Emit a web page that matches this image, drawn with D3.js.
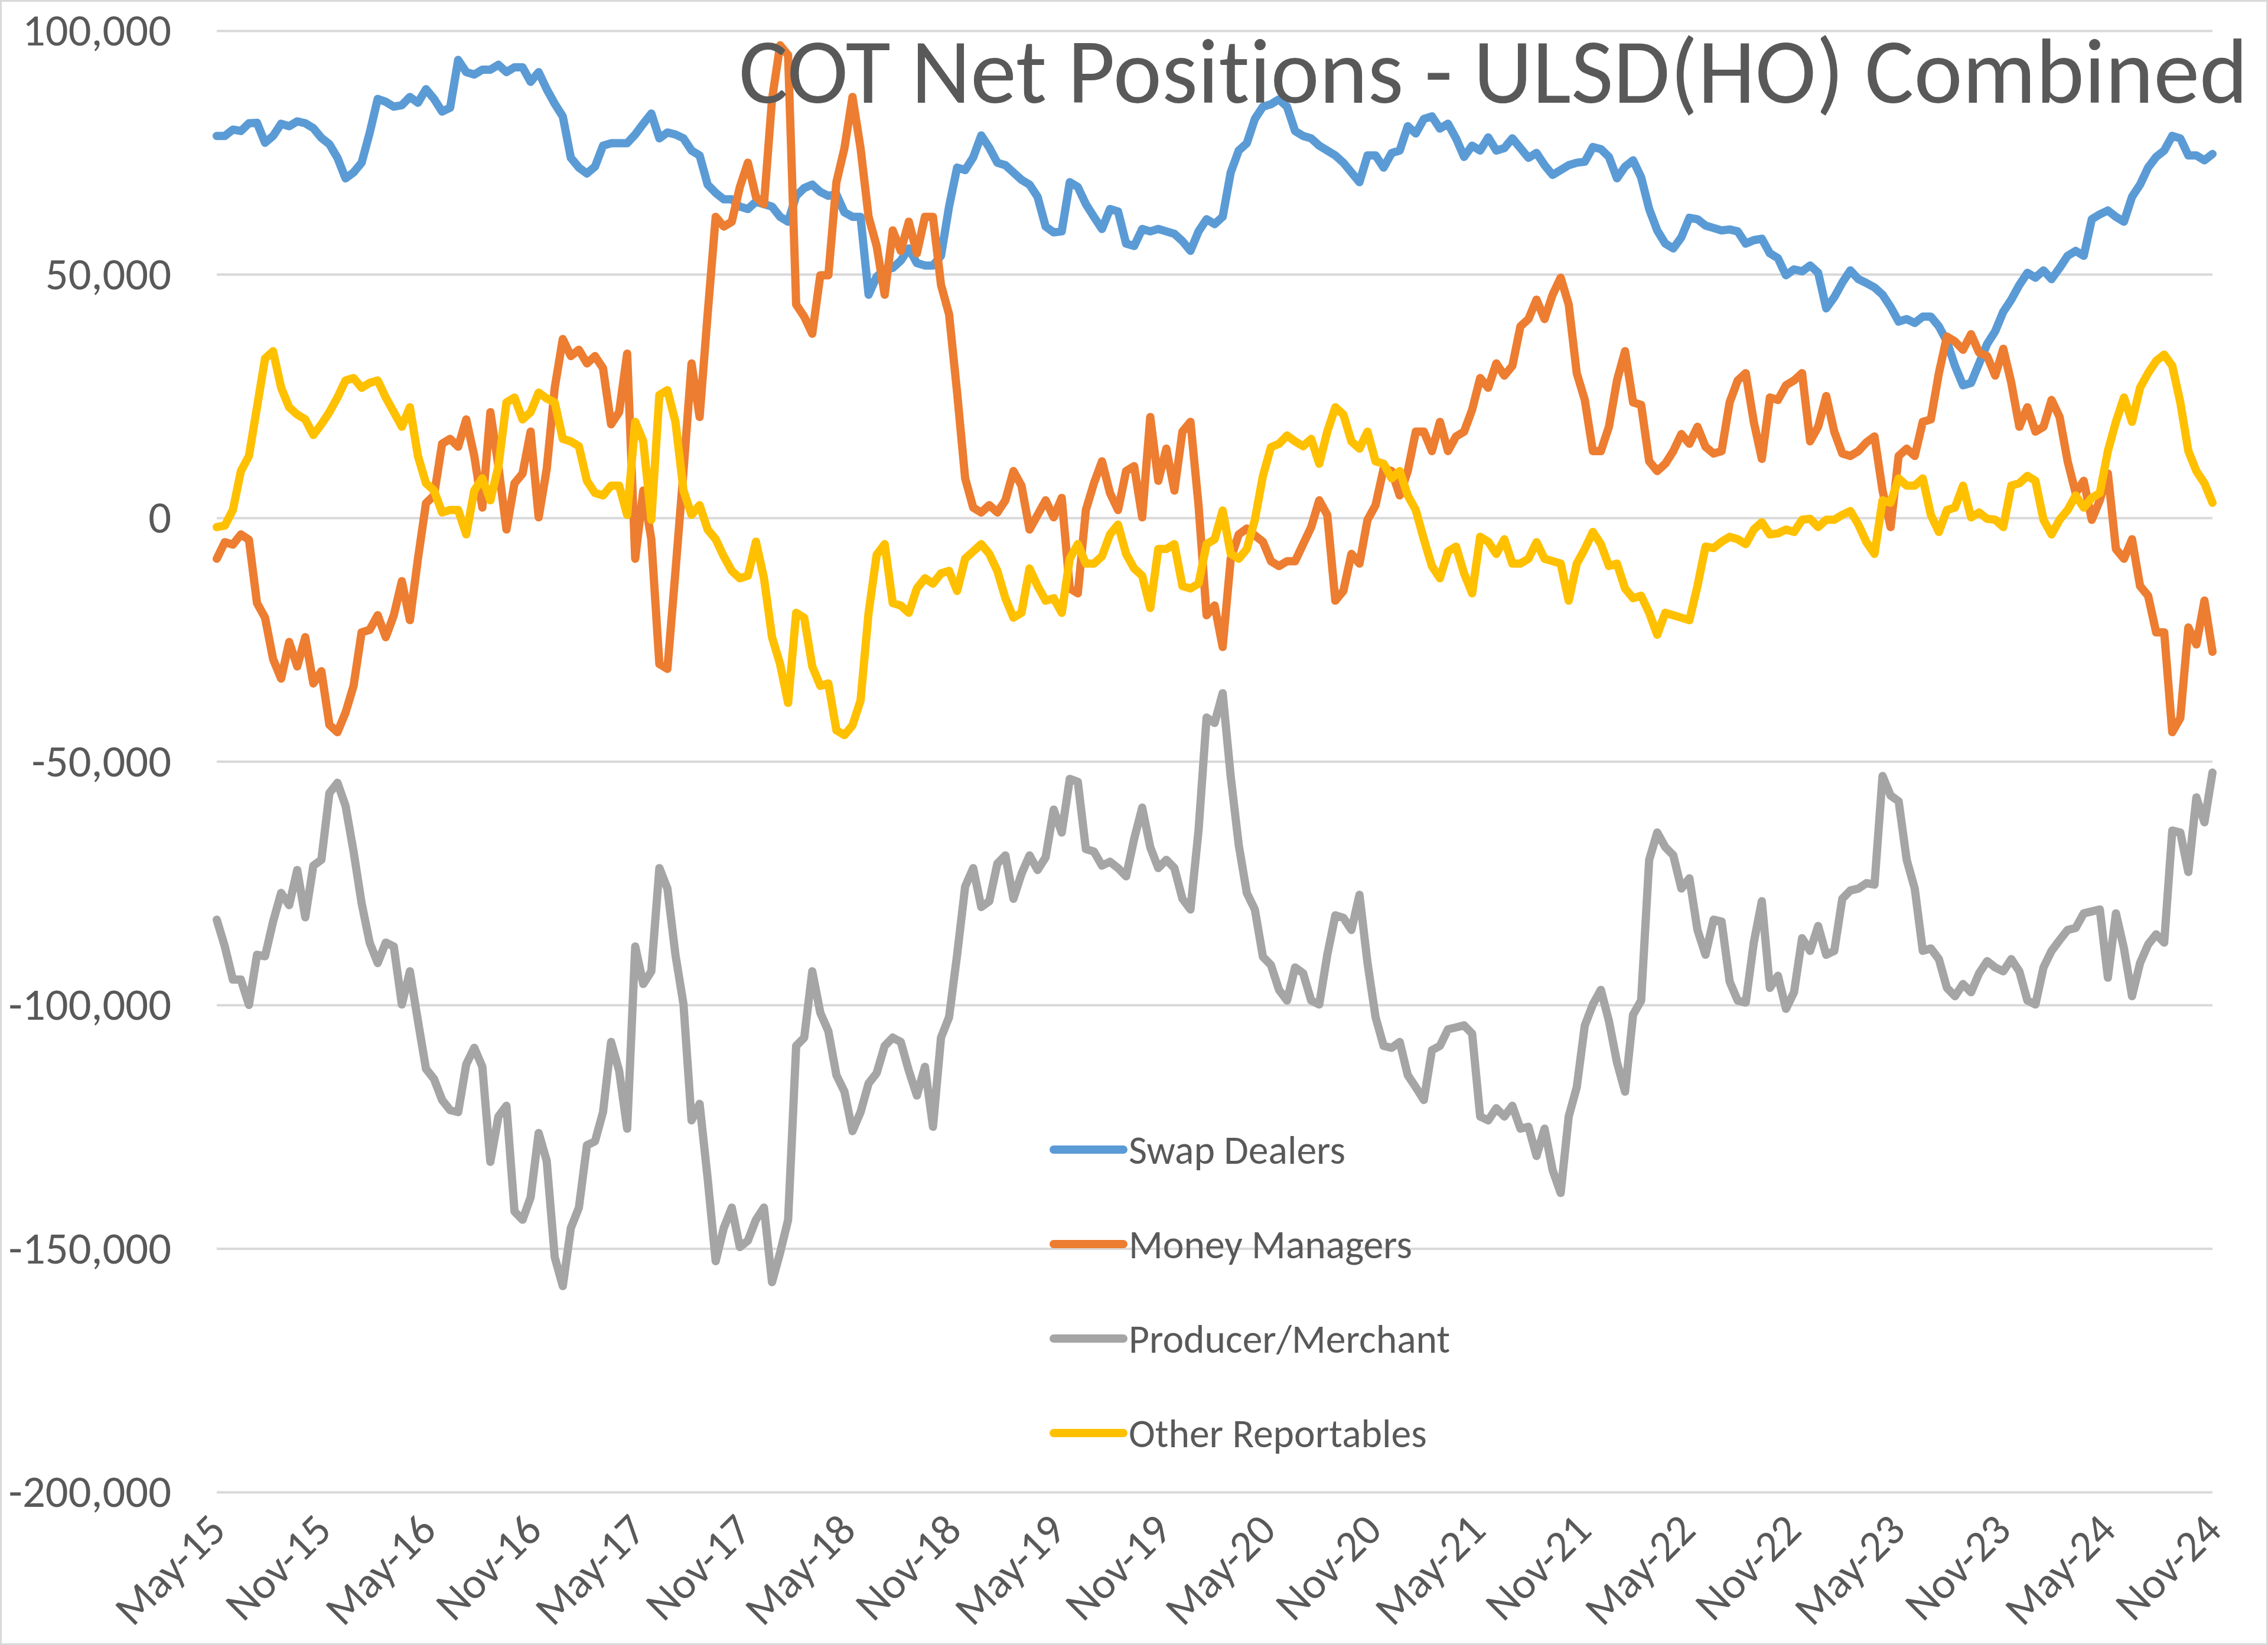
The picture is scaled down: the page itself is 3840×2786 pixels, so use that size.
<!DOCTYPE html>
<html><head><meta charset="utf-8">
<script src="https://cdn.jsdelivr.net/npm/d3@7"></script>
<style>html,body{margin:0;padding:0;background:#fff;} svg{display:block;} text{font-variant-ligatures:none;font-feature-settings:"liga" 0;}</style>
</head><body>
<svg id="chart" width="3840" height="2786"></svg>
<script>
// ---------- DATA (net positions, thousands of contracts, one reading every 2 weeks) ----------
const startDate = new Date(2015, 4, 5);
const stepDays = 14;
const unit = 1000;

const swapDealers = [
78.4,78.4,79.7,79.4,81,81.1,77,78.4,80.9,80.4,81.4,81,80,78,76.7,73.9,69.7,70.9,72.9,79,86,85.4,84.4,84.7,86.4,85.2,88,86,83.4,84.2,94,91.5,91,92,92,93,91.5,92.5,92.5,89.5,91.5,88,
85,82.4,73.9,71.9,70.7,72.1,76.4,76.9,76.9,76.9,78.7,80.9,83,77.9,79.1,78.7,77.9,75.4,74.4,68.4,66.7,65.4,65.4,63.9,63.4,64.9,64.4,63.9,61.8,60.8,66.1,67.7,68.4,66.9,66.1,66.4,62.7,61.8,61.8,45.8,49.5,
51,51.3,52.8,55.3,52.3,51.8,51.8,53.8,63.9,71.9,71.4,74,78.5,76,72.9,72.4,70.9,69.4,68.4,65.9,59.8,58.6,58.8,68.9,67.9,64.4,61.8,59.3,63.4,62.9,56.3,55.8,59.3,58.8,59.3,58.8,58.3,56.8,54.8,58.8,61.3,
60.3,61.8,70.9,75.4,76.9,81.9,84.4,84.9,85.9,84.4,79.4,78.4,77.9,76.4,75.4,74.4,72.9,70.9,68.9,74.4,74.4,71.9,74.9,75.4,80.4,78.9,81.9,82.4,79.9,80.9,77.9,74.1,76.4,75.4,78.1,75.4,75.9,77.9,75.9,73.9,74.9,
72.4,70.4,71.4,72.4,72.9,73.1,76.1,75.7,74.1,69.7,72.1,73.4,69.9,63.4,59,56.3,55.3,57.6,61.6,61.3,60,59.5,59,59.2,58.8,56.3,57,57.3,54.3,53.3,49.8,51,50.6,51.8,50.3,43,45.3,48.3,50.8,49,48.2,
47.3,45.8,43.3,40.3,40.8,40,41.3,41.3,39.3,36.2,31.2,27.2,27.7,31.7,35.7,38.3,42.3,44.8,47.8,50.3,49.3,50.8,49,51.3,53.8,54.8,53.8,61.3,62.3,63.1,61.8,60.8,65.9,68.4,71.9,74.1,75.4,78.4,77.9,74.4,74.4,73.4,74.7
];

const moneyManagers = [
-8.4,-5,-5.5,-3.4,-4.5,-17.5,-20.5,-29,-33,-25.5,-30.5,-24.5,-34,-31.5,-42.5,-44,-40,-34.5,-23.5,-23,-20,-24.5,-20,-13,-21,-8.4,3,4.6,15.2,16.2,14.6,20.2,12.7,2.1,21.7,10.6,-2.4,7.1,9.1,17.7,0.1,10,
26.7,36.7,33.2,34.5,31.7,33.2,30.7,19.2,21.7,33.7,-8.4,5.6,-4.4,-30,-31,-11,9.6,31.7,20.7,41.8,61.8,59.8,60.8,67.9,72.9,65.9,64.4,85.9,97,95,43.8,41.3,37.8,49.8,49.8,68.9,75.9,86.4,75.9,61.8,55.8,
45.8,59,54.8,60.8,54.3,61.8,61.8,47.8,41.8,25.7,8.1,2.1,1.1,2.6,1.1,3.6,9.6,6.6,-2.4,0.6,3.6,0.1,4.1,-14.5,-15.5,1.6,7.1,11.6,5.1,1.6,9.6,10.6,0.1,20.7,7.6,14.2,5.6,17.7,19.7,2.6,-20,
-18,-26.5,-8.4,-3.4,-2.2,-3.6,-4.9,-8.9,-9.9,-8.9,-8.9,-5.4,-1.9,3.6,0.6,-17,-15,-7.4,-9.4,-0.4,2.6,10.1,9.6,4.6,9.6,17.7,17.7,13.7,19.7,13.7,16.7,17.7,22.2,28.7,26.7,31.7,29.2,31.2,39.3,40.8,44.8,
40.8,45.8,49.3,43.8,29.7,24.2,13.7,13.7,18.7,28.2,34.2,23.7,23.2,11.6,9.6,11.1,13.7,17.2,15.2,18.7,14.6,13.2,13.7,23.7,28.2,29.7,19.7,12.1,24.7,24.2,27.2,28.2,29.7,15.7,18.7,25,17.7,13.2,12.7,13.7,15.5,
16.7,5.6,-1.9,12.7,14.2,12.7,19.7,20.2,29.7,37.2,36.2,34.5,37.7,33.9,33.2,29.2,34.7,27.7,18.7,22.7,17.7,18.7,24.2,20.7,11.6,5.1,7.6,-0.4,3.6,9.1,-6.4,-8.4,-4.4,-14,-16,-23.5,-23.5,-44,-41.1,-22.5,-26,-17,-27.5
];

const producerMerchant = [
-82.5,-88,-94.8,-94.8,-100,-89.7,-90,-82.9,-77,-79.5,-72.3,-82,-71.4,-70.2,-56.5,-54.4,-59.1,-68.5,-79.1,-87.2,-91.4,-87.2,-88,-99.9,-93.1,-103.3,-113.1,-115.2,-119.5,-121.6,-122,-112.2,-108.8,-112.7,-132.2,-122.9,-120.7,-142.4,-144.1,-139.5,-126.3,-132,
-151.8,-157.7,-145.8,-141.6,-128.8,-128,-122,-107.6,-113.5,-125.4,-88,-95.7,-93.1,-71.9,-76.1,-89.7,-99.9,-123.7,-120.3,-135.6,-152.6,-145.8,-141.6,-149.7,-148.4,-144.1,-141.6,-156.9,-150.9,-144.1,-108.4,-106.7,-93.1,-101.6,-105.4,-114.4,-117.8,-125.9,-122,-116.1,-114,
-108.4,-106.7,-107.6,-113.5,-118.6,-112.7,-125,-106.7,-102.5,-89.7,-75.7,-71.9,-79.9,-78.7,-71,-69.3,-78.2,-73.1,-69.3,-72.3,-69.7,-59.9,-64.6,-53.6,-54.2,-68,-68.5,-71.4,-70.6,-71.9,-73.6,-65.9,-59.5,-67.6,-71.9,-70.2,-71.9,-78.2,-80.4,-64.2,-41,
-42.1,-36,-53.1,-67.2,-77,-80.4,-90.1,-91.8,-96.9,-99.1,-92.3,-93.5,-99.1,-99.9,-89.7,-81.6,-82.1,-84.6,-77.4,-91.4,-102.5,-108.4,-108.8,-107.6,-114.4,-116.9,-119.5,-109.3,-108.4,-105,-104.6,-104.2,-105.9,-122.9,-123.7,-121.2,-122.9,-120.7,-125.4,-125,-131,
-125.4,-133.9,-138.6,-122.9,-116.9,-104.2,-99.9,-96.9,-103.3,-111.8,-117.8,-102,-99.1,-70.2,-64.6,-67.6,-69.3,-76.1,-74,-84.6,-89.7,-82.5,-82.9,-95.2,-99.1,-99.5,-87.2,-78.7,-96.5,-94,-100.8,-97.4,-86.3,-88.9,-83.8,-89.7,-88.9,-78.2,-76.5,-76.1,-75,
-75.3,-53,-57,-58.2,-70.2,-76.1,-88.9,-88.4,-90.6,-96.5,-98.2,-95.7,-97.4,-93.5,-91,-92.3,-93.1,-90.6,-93.1,-99.1,-99.9,-92.3,-88.9,-86.7,-84.6,-84.2,-81.2,-80.8,-80.4,-94.4,-81.2,-88.4,-98.2,-91.4,-87.6,-85.5,-87.2,-64.2,-64.6,-72.7,-57.4,-62.5,-52.3
];

const otherReportables = [
-1.9,-1.6,1.6,9.6,12.7,22.7,32.7,34.2,26.7,22.7,21.2,20.2,17,19.2,21.7,24.7,28.2,28.7,26.7,27.7,28.2,24.7,21.7,18.7,22.7,12.7,7.1,5.6,1.1,1.6,1.6,-3.4,5.6,8.1,3.6,10.6,23.7,24.7,20.2,21.7,25.7,24.5,
23.7,16.2,15.7,14.7,7.6,5.1,4.6,6.6,6.6,0.6,19.7,15.7,-0.4,25.2,26.2,19.7,5.6,0.6,2.6,-2.4,-4.4,-7.9,-10.9,-12.4,-11.9,-4.9,-12.4,-24.5,-30,-38,-19.5,-20.5,-30.5,-34.5,-34,-43.6,-44.6,-42.6,-37.5,-19.5,-7.6,
-5.4,-17.5,-18,-19.5,-14.5,-12.4,-13.5,-11.4,-10.9,-15,-8.4,-6.9,-5.4,-7.4,-10.9,-16.5,-20.5,-19.5,-10.4,-14,-17,-16.5,-19.5,-8.4,-5.4,-9.4,-9.4,-7.9,-3.4,-1.4,-7.4,-10.4,-11.9,-18.5,-6.4,-6.4,-5.4,-14,-14.5,-13.5,-5.4,
-4.4,1.5,-7.4,-8.4,-6.4,-0.4,8.6,14.5,15.2,16.9,15.7,14.7,16.2,11.1,17.7,22.7,21.2,15.7,14.2,17.7,11.6,11.1,8.1,9.6,4.6,1.6,-4.4,-9.9,-12.4,-6.9,-5.9,-11.4,-15.5,-3.9,-4.9,-7.4,-4.4,-9.4,-9.4,-8.4,-5,
-8.4,-8.9,-9.4,-17,-9.4,-6.4,-2.9,-5.4,-9.9,-9.4,-14.5,-16.5,-16,-19.5,-24,-19.5,-20,-20.5,-21,-14,-5.9,-6.2,-4.9,-3.9,-4.4,-5.4,-2.4,-0.9,-3.4,-3.2,-2.4,-2.9,-0.4,-0.2,-1.9,-0.4,-0.4,0.6,1.4,-1.4,-5,
-7.4,3.6,3.1,8.1,6.6,6.6,8.1,0.6,-2.9,1.6,2.1,6.6,0.1,1.1,-0.2,-0.4,-1.9,6.6,7.1,8.6,7.6,-0.4,-3.4,-0.4,1.6,4.6,2.1,4.1,5.1,13.7,19.7,24.7,19.7,26.7,29.7,32.2,33.5,31.2,23.7,13.7,9.6,7.1,3.1
];

const seriesNames = ["Swap Dealers", "Money Managers", "Producer/Merchant", "Other Reportables"];
const seriesColors = ["#5B9BD5", "#ED7D31", "#A5A5A5", "#FFC000"];
const seriesValues = [swapDealers, moneyManagers, producerMerchant, otherReportables];
const yTicks = [100000, 50000, 0, -50000, -100000, -150000, -200000];
const xTickLabels = ["May-15","Nov-15","May-16","Nov-16","May-17","Nov-17","May-18","Nov-18","May-19","Nov-19",
                     "May-20","Nov-20","May-21","Nov-21","May-22","Nov-22","May-23","Nov-23","May-24","Nov-24"];
const chartTitle = "COT Net Positions - ULSD(HO) Combined";

// ---------- LAYOUT ----------
const W = 3840, H = 2786;
const plot = {left: 367, right: 3746, top: 52, bottom: 2527};
const FONT = "Carlito, Calibri, Lato, 'Open Sans', sans-serif";
const TEXT = "#595959";
const GRID = "#D9D9D9";

const svg = d3.select("#chart");
svg.append("rect").attr("x", 0).attr("y", 0).attr("width", W).attr("height", H).attr("fill", "#fff");
svg.append("rect").attr("x", 1.5).attr("y", 1.5).attr("width", W - 3).attr("height", H - 3)
   .attr("fill", "none").attr("stroke", GRID).attr("stroke-width", 3);

const tickDates = xTickLabels.map((_, k) => d3.timeMonth.offset(startDate, 6 * k));
const x = d3.scaleTime().domain([tickDates[0], tickDates[tickDates.length - 1]]).range([plot.left, plot.right]);
const y = d3.scaleLinear().domain([-200000, 100000]).range([plot.bottom, plot.top]);

function fit(sel, target) {
  const w = sel.node().getComputedTextLength();
  const fs = parseFloat(sel.attr("font-size"));
  sel.attr("font-size", fs * target / w);
  return fs * target / w;
}
const numFmt = d3.format(",.0f");
const fmtTick = d => (d < 0 ? "-" : "") + numFmt(Math.abs(d));

// gridlines + y labels via axis
const yAxis = d3.axisLeft(y).tickValues(yTicks).tickSize(-(plot.right - plot.left)).tickPadding(77)
  .tickFormat(fmtTick);
const gy = svg.append("g").attr("transform", `translate(${plot.left},0)`).call(yAxis);
gy.select(".domain").remove();
gy.selectAll(".tick line").attr("stroke", GRID).attr("stroke-width", 4);
gy.selectAll(".tick text").attr("fill", TEXT).attr("font-family", FONT).attr("font-size", 70);
const refLabel = gy.selectAll(".tick text").filter(d => d === 100000);
const tickFont = fit(refLabel, 252);
gy.selectAll(".tick text").attr("font-size", tickFont);

// x labels (rotated)
const xAxis = d3.axisBottom(x).tickValues(tickDates).tickSize(0).tickFormat((d, i) => xTickLabels[i]);
const gx = svg.append("g").attr("transform", `translate(0,${plot.bottom})`).call(xAxis);
gx.select(".domain").remove();
gx.selectAll(".tick text")
  .attr("fill", TEXT).attr("font-family", FONT).attr("font-size", tickFont * 0.97)
  .attr("text-anchor", "end").attr("y", 0).attr("dy", "0.35em")
  .attr("transform", "translate(0,50) rotate(-45)");

// lines
const line = d3.line()
  .x((d, i) => x(d3.timeDay.offset(startDate, i * stepDays)))
  .y(d => y(d * unit));
const gl = svg.append("g");
seriesValues.forEach((vals, s) => {
  gl.append("path").datum(vals).attr("d", line)
    .attr("fill", "none").attr("stroke", seriesColors[s]).attr("stroke-width", 14)
    .attr("stroke-linejoin", "round").attr("stroke-linecap", "round");
});

// title
const t = svg.append("text").text(chartTitle).attr("x", 1251).attr("y", 174)
  .attr("font-family", FONT).attr("font-size", 150).attr("fill", TEXT);
fit(t, 2555);

// legend
const lg = svg.append("g");
const legendY0 = 1947, legendStep = 160;
let legFont = null;
seriesNames.forEach((name, s) => {
  const yy = legendY0 + s * legendStep;
  lg.append("line").attr("x1", 1784).attr("x2", 1902).attr("y1", yy).attr("y2", yy)
    .attr("stroke", seriesColors[s]).attr("stroke-width", 14).attr("stroke-linecap", "round");
  const tx = lg.append("text").text(name).attr("x", 1911).attr("y", yy).attr("dy", "0.35em")
    .attr("font-family", FONT).attr("font-size", 62).attr("fill", TEXT);
  if (s === 0) legFont = fit(tx, 367); else tx.attr("font-size", legFont);
});
</script>
</body></html>
